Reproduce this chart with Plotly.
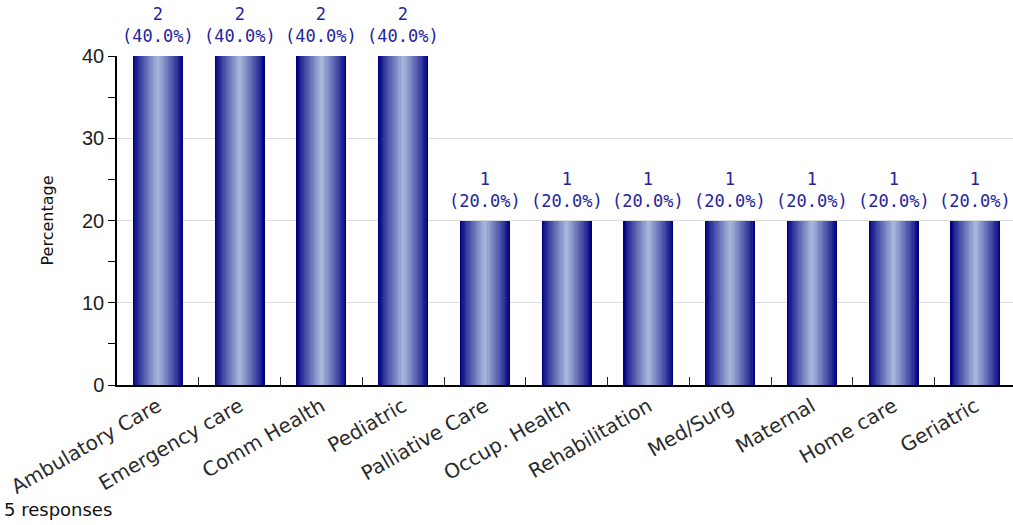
import plotly.graph_objects as go

categories = ["Ambulatory Care", "Emergency care", "Comm Health", "Pediatric",
              "Palliative Care", "Occup. Health", "Rehabilitation", "Med/Surg",
              "Maternal", "Home care", "Geriatric"]
counts = [2, 2, 2, 2, 1, 1, 1, 1, 1, 1, 1]
percentages = [40.0, 40.0, 40.0, 40.0, 20.0, 20.0, 20.0, 20.0, 20.0, 20.0, 20.0]
y_ticks = [0, 10, 20, 30, 40]
y_minor_ticks = [5, 15, 25, 35]
n_responses = 5

# cylinder-like shading built from overlaid bars of decreasing width
edge = (0, 0, 128)
centre = (164, 182, 218)
layers = 20
full_width = 0.61

fig = go.Figure()
for i in range(layers):
    u = i / (layers - 1)
    f = u ** 0.85
    c = tuple(int(round(edge[k] + (centre[k] - edge[k]) * f)) for k in range(3))
    w = full_width * (1 - i / layers)
    fig.add_trace(go.Bar(
        x=categories, y=percentages, width=w,
        marker=dict(color="rgb(%d,%d,%d)" % c, line=dict(width=0)),
        hoverinfo="skip" if i else "x+y", showlegend=False,
    ))

for cat, n, p in zip(categories, counts, percentages):
    fig.add_annotation(x=cat, y=p, xref="x", yref="y",
                       text="%d<br>(%.1f%%)" % (n, p), showarrow=False,
                       yanchor="bottom", yshift=8,
                       font=dict(family="DejaVu Sans Mono", size=17, color="#24249c"))

fig.add_annotation(x=0, y=0, xref="paper", yref="paper", xanchor="left", yanchor="bottom",
                   text="%d responses" % n_responses, showarrow=False,
                   xshift=-115, yshift=-137,
                   font=dict(family="DejaVu Sans", size=18, color="#111"))

fig.update_layout(
    width=1013, height=525,
    margin=dict(l=117, r=0, t=56, b=140),
    paper_bgcolor="white", plot_bgcolor="white",
    barmode="overlay", bargap=0,
    xaxis=dict(
        type="category", range=[-0.5, 10.46],
        showline=True, linecolor="black", linewidth=2,
        ticks="inside", tickson="boundaries", ticklen=8, tickcolor="#222",
        tickangle=-30, showgrid=False,
        tickfont=dict(family="DejaVu Sans", size=20, color="#2a2a2a"),
    ),
    yaxis=dict(
        range=[0, 40], tickvals=y_ticks,
        showline=True, linecolor="black", linewidth=1.5,
        ticks="outside", ticklen=7, tickcolor="black",
        minor=dict(tickvals=y_minor_ticks, ticks="outside", ticklen=7,
                   tickcolor="black", showgrid=False),
        showgrid=True, gridcolor="#dcdcdc", gridwidth=1,
        zeroline=False,
        tickfont=dict(family="Liberation Sans", size=20, color="#222"),
        title=dict(text="Percentage", standoff=24,
                   font=dict(family="DejaVu Sans", size=16, color="#111")),
    ),
)

fig.write_html("out.html")
